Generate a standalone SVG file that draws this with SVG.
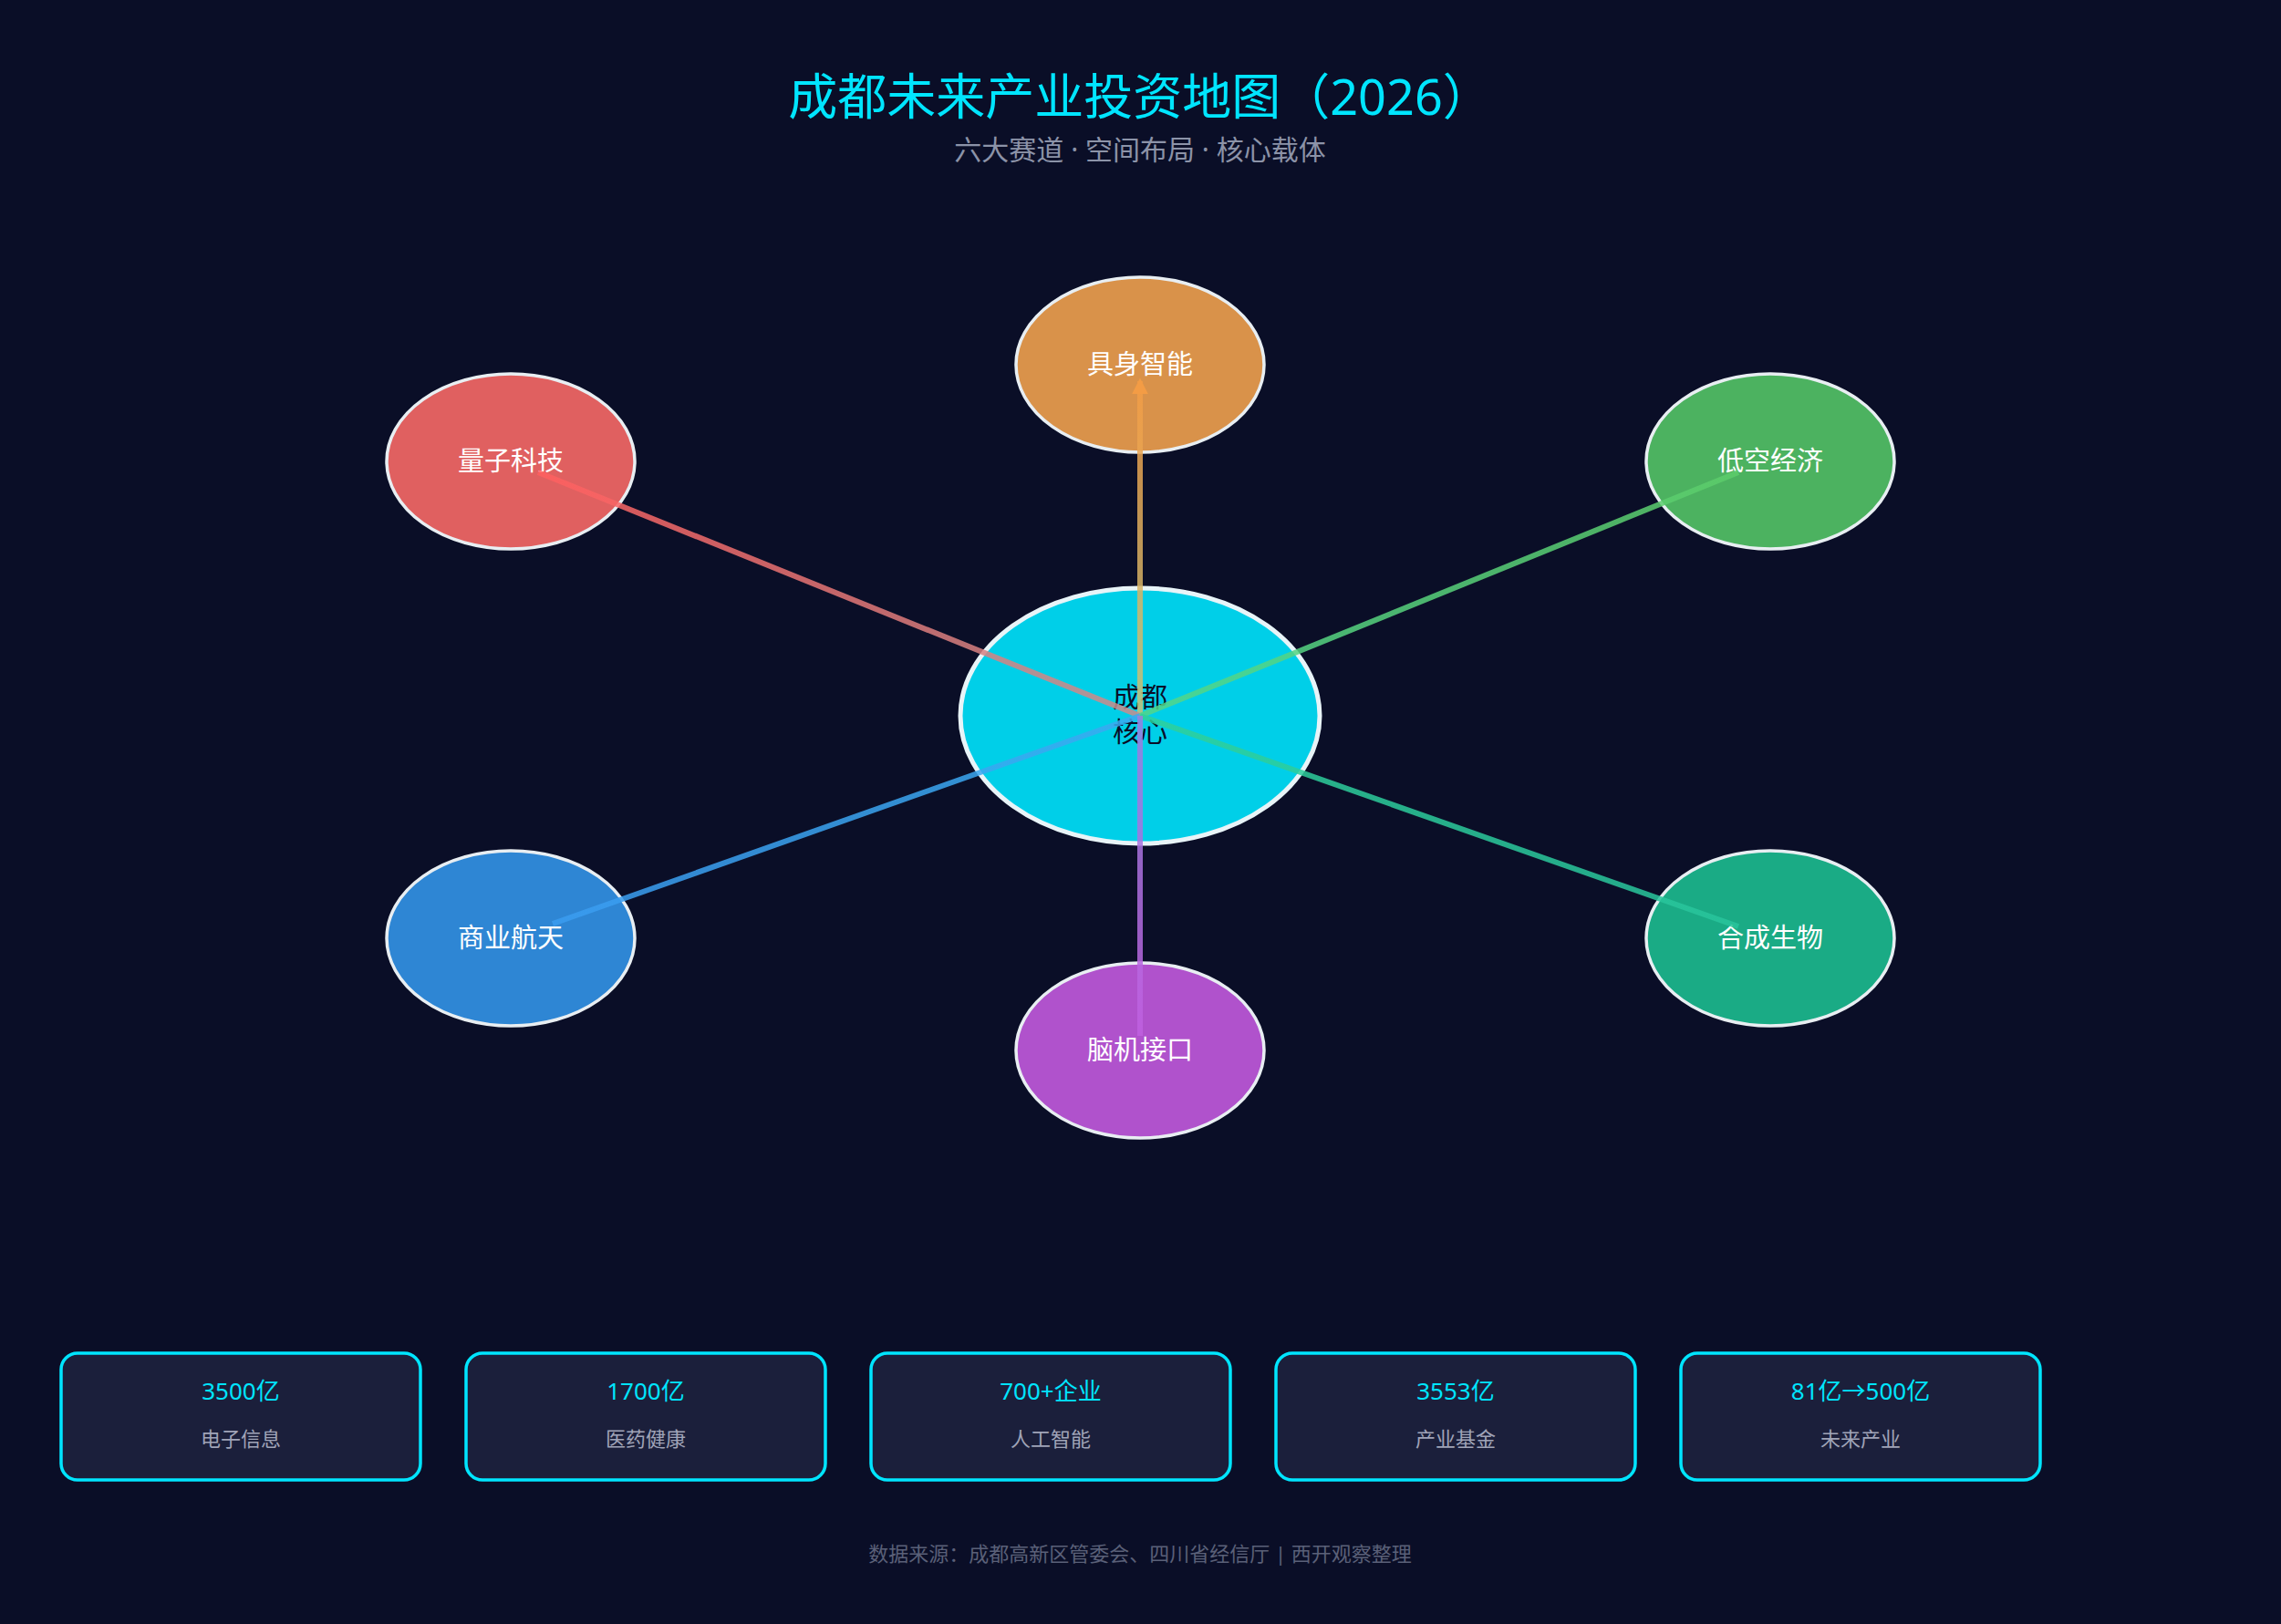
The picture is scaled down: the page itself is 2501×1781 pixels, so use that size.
<svg xmlns="http://www.w3.org/2000/svg" width="2501" height="1781" viewBox="0 0 2501 1781">
<style>
text{font-family:"Noto Sans","Noto Sans CJK SC",sans-serif;text-anchor:middle}
.node{stroke:#e8eef2;stroke-width:3.5}
.nl{fill:#fff;font-size:29px}
.card{fill:#1b1f3b;stroke:#00e5ff;stroke-width:3.5}
.cv{fill:#00e5ff;font-size:26px}
.cl{fill:#a0a4b8;font-size:22px}
.ln{stroke-width:6;fill:none;stroke-opacity:0.85}
</style>
<defs>
<marker id="ah" viewBox="0 0 10 10" refX="8" refY="5" markerWidth="3" markerHeight="3" orient="auto"><path d="M0,0L10,5L0,10z" fill="#f39c45"/></marker>
<linearGradient id="gt" gradientUnits="userSpaceOnUse" x1="1250" y1="785" x2="1250" y2="418"><stop offset="0" stop-color="#c7c27a"/><stop offset="1" stop-color="#f39c45"/></linearGradient>
<linearGradient id="gq" gradientUnits="userSpaceOnUse" x1="1250" y1="785" x2="590" y2="518"><stop offset="0" stop-color="#c98d8d"/><stop offset="1" stop-color="#ff5f5f"/></linearGradient>
<linearGradient id="gl" gradientUnits="userSpaceOnUse" x1="1250" y1="785" x2="1906" y2="518"><stop offset="0" stop-color="#52d68a"/><stop offset="1" stop-color="#5ccc6a"/></linearGradient>
<linearGradient id="gc" gradientUnits="userSpaceOnUse" x1="1250" y1="785" x2="606" y2="1013"><stop offset="0" stop-color="#3aaaf0"/><stop offset="1" stop-color="#3a9cf0"/></linearGradient>
<linearGradient id="gs" gradientUnits="userSpaceOnUse" x1="1250" y1="785" x2="1906" y2="1016"><stop offset="0" stop-color="#2fd09a"/><stop offset="1" stop-color="#28c49c"/></linearGradient>
<linearGradient id="gb" gradientUnits="userSpaceOnUse" x1="1250" y1="785" x2="1250" y2="1136"><stop offset="0" stop-color="#9a80e0"/><stop offset="1" stop-color="#c060e0"/></linearGradient>
</defs>
<rect width="2501" height="1781" fill="#0a0e27"/>
<text x="1250" y="126" font-size="54" fill="#00e5ff">成都未来产业投资地图（2026）</text>
<text x="1250" y="175" font-size="30" fill="#8c93a8">六大赛道 · 空间布局 · 核心载体</text>
<g id="n-top"><ellipse class="node" cx="1250" cy="400" rx="136" ry="96" fill="#d9924a"/><text class="nl" x="1250" y="410">具身智能</text></g>
<g id="n-quantum"><ellipse class="node" cx="560" cy="506" rx="136" ry="96" fill="#e06060"/><text class="nl" x="560" y="516">量子科技</text></g>
<g id="n-low"><ellipse class="node" cx="1941" cy="506" rx="136" ry="96" fill="#4cb260"/><text class="nl" x="1941" y="516">低空经济</text></g>
<g id="n-space"><ellipse class="node" cx="560" cy="1029" rx="136" ry="96" fill="#2e86d4"/><text class="nl" x="560" y="1039">商业航天</text></g>
<g id="n-bio"><ellipse class="node" cx="1941" cy="1029" rx="136" ry="96" fill="#1aab85"/><text class="nl" x="1941" y="1039">合成生物</text></g>
<g id="n-brain"><ellipse class="node" cx="1250" cy="1152" rx="136" ry="96" fill="#b052cc"/><text class="nl" x="1250" y="1162">脑机接口</text></g>
<g id="n-core"><ellipse cx="1250" cy="785" rx="197" ry="140" fill="#00cfe8" stroke="#e8f4f8" stroke-width="5"/><text x="1250" y="775" font-size="30" fill="#0a0e27">成都</text><text x="1250" y="813" font-size="30" fill="#0a0e27">核心</text></g>
<g id="connectors">
<line class="ln" x1="1250" y1="785" x2="1250" y2="418" stroke="url(#gt)" marker-end="url(#ah)"/>
<line class="ln" x1="1250" y1="785" x2="590" y2="518" stroke="url(#gq)"/>
<line class="ln" x1="1250" y1="785" x2="1906" y2="518" stroke="url(#gl)"/>
<line class="ln" x1="1250" y1="785" x2="606" y2="1013" stroke="url(#gc)"/>
<line class="ln" x1="1250" y1="785" x2="1906" y2="1016" stroke="url(#gs)"/>
<line class="ln" x1="1250" y1="785" x2="1250" y2="1136" stroke="url(#gb)"/>
</g>
<g id="card1"><rect class="card" x="67" y="1484" width="394" height="139" rx="18"/><text class="cv" x="264" y="1535">3500亿</text><text class="cl" x="264" y="1586">电子信息</text></g>
<g id="card2"><rect class="card" x="511" y="1484" width="394" height="139" rx="18"/><text class="cv" x="708" y="1535">1700亿</text><text class="cl" x="708" y="1586">医药健康</text></g>
<g id="card3"><rect class="card" x="955" y="1484" width="394" height="139" rx="18"/><text class="cv" x="1152" y="1535">700+企业</text><text class="cl" x="1152" y="1586">人工智能</text></g>
<g id="card4"><rect class="card" x="1399" y="1484" width="394" height="139" rx="18"/><text class="cv" x="1596" y="1535">3553亿</text><text class="cl" x="1596" y="1586">产业基金</text></g>
<g id="card5"><rect class="card" x="1843" y="1484" width="394" height="139" rx="18"/><text class="cv" x="2040" y="1535">81亿→500亿</text><text class="cl" x="2040" y="1586">未来产业</text></g>
<text x="1250" y="1712" font-size="22" fill="#5a6078">数据来源：成都高新区管委会、四川省经信厅 | 西开观察整理</text>
</svg>
